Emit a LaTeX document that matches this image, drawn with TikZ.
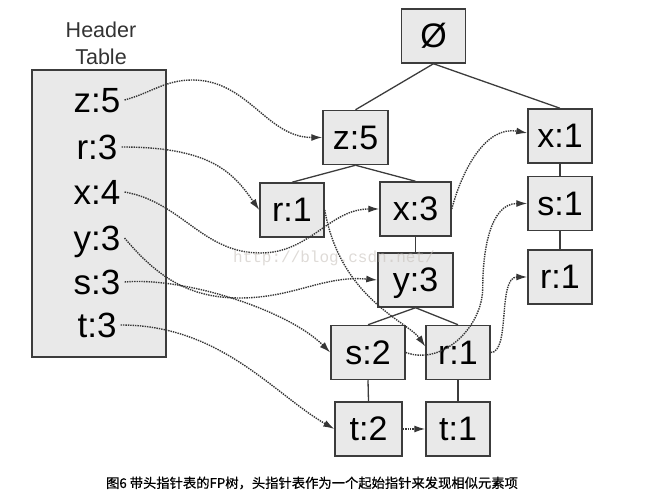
\documentclass[tikz,border=0pt]{standalone}
\usepackage{fontspec}
\setmainfont{Liberation Sans}
\newfontfamily\cjkfont[FakeBold=0.6]{Noto Sans CJK SC}
\newfontfamily\wmfont{Liberation Mono}
\usetikzlibrary{arrows.meta}
\definecolor{boxgray}{RGB}{233,233,233}
\definecolor{edgegray}{RGB}{60,60,60}
\definecolor{wmgray}{RGB}{200,194,188}
\tikzset{
	treebox/.style={draw=edgegray, fill=boxgray, line width=1.5pt, minimum width=64pt, minimum height=54pt, inner sep=0pt, text height=24pt, text depth=0pt, font=\fontsize{34}{38}\selectfont},
	hentry/.style={inner sep=4pt, text height=25pt, text depth=0pt, font=\fontsize{35}{38}\selectfont},
	treeedge/.style={draw=edgegray, line width=1.3pt},
	headptr/.style={draw=edgegray!90!black, line width=1.4pt, dash pattern=on 1.4pt off 1pt, -{Latex[length=11pt,width=7pt]}},
}
\begin{document}
\begin{tikzpicture}[x=1pt,y=1pt]
		\useasboundingbox (0,0) rectangle (650,497);

		\node[draw=edgegray, fill=boxgray, line width=1.5pt, minimum width=134pt, minimum height=287pt] (hTable) at (99,283.5) {};
		\node[align=center, text=black!80, font=\fontsize{21.5}{27}\selectfont] (hTitle) at (101,454) {Header\\Table};

		\node[hentry] (hZ) at (97,397) {z:5};
		\node[hentry] (hR) at (97,350) {r:3};
		\node[hentry] (hX) at (97,305) {x:4};
		\node[hentry] (hY) at (97,259) {y:3};
		\node[hentry] (hS) at (97,215) {s:3};
		\node[hentry] (hT) at (97,172) {t:3};

		\node[treebox] (nEmpty) at (433.5,461) {Ø};
		\node[treebox, minimum width=65pt] (nZ5) at (355.5,359.5) {z:5};
		\node[treebox] (nX1) at (560,361) {x:1};
		\node[treebox] (nR1a) at (292,287) {r:1};
		\node[treebox, minimum width=71pt] (nX3) at (415.5,288) {x:3};
		\node[treebox] (nS1) at (560,293.5) {s:1};
		\node[treebox, minimum width=75pt] (nY3) at (415.5,217) {y:3};
		\node[treebox] (nR1c) at (560,220) {r:1};
		\node[treebox, minimum width=74pt] (nS2) at (368,144.5) {s:2};
		\node[treebox] (nR1b) at (458,144.5) {r:1};
		\node[treebox, minimum width=67pt] (nT2) at (368.5,68) {t:2};
		\node[treebox] (nT1) at (458,68) {t:1};

		\draw[treeedge] (nEmpty.south) -- (nZ5.north);
		\draw[treeedge] (nEmpty.south) -- (nX1.north);
		\draw[treeedge] (nZ5.south) -- (nR1a.north);
		\draw[treeedge] (nZ5.south) -- (nX3.north);
		\draw[treeedge] (nX3.south) -- (nY3.north);
		\draw[treeedge] (nY3.south) -- (nS2.north);
		\draw[treeedge] (nY3.south) -- (nR1b.north);
		\draw[treeedge] (nS2.south) -- (nT2.north);
		\draw[treeedge] (nR1b.south) -- (nT1.north);
		\draw[treeedge] (nX1.south) -- (nS1.north);
		\draw[treeedge] (nS1.south) -- (nR1c.north);

		\draw[headptr] (hZ.east) to[out=15,in=180] ++(68,20) to[out=0,in=180] (nZ5.west);
		\draw[headptr] (hR.east) to[out=0,in=125,out distance=90pt,in distance=45pt] (nR1a.west);
		\draw[headptr] (hX.east) to[out=-10,in=180] ++(136,-61) to[out=0,in=180] (nX3.west);
		\draw[headptr] (nX3.east) to[out=75,in=170] ([yshift=3pt]nX1.west);
		\draw[headptr] (hY.east) to[out=-50,in=180] ++(115,-60) to[out=0,in=175] (nY3.west);
		\draw[headptr] (hS.east) to[out=5,in=135,out distance=60pt,in distance=60pt] (nS2.west);
		\draw[headptr] (hT.east) to[out=0,in=150,out distance=100pt,in distance=70pt] (nT2.west);
		\draw[headptr] (nR1a.east) to[out=-80,in=125,out distance=90pt,in distance=30pt] ([yshift=6pt]nR1b.west);
		\draw[headptr] (nR1b.east) to[out=0,in=180,out distance=20pt,in distance=30pt] (nR1c.west);
		\draw[headptr] (nS2.east) to[out=-20,in=-90] ++(77,65) to[out=90,in=180] (nS1.west);
		\draw[headptr] (nT2.east) -- (nT1.west);

		\node[text=wmgray, text opacity=0.6, font=\wmfont\fontsize{16}{18}\selectfont] (wMark) at (334,239) {http://blog.csdn.net/};

		\node[font=\cjkfont\fontsize{13.3}{16}\selectfont] (caption) at (312,14) {图6 带头指针表的FP树，头指针表作为一个起始指针来发现相似元素项};

	\end{tikzpicture}
\end{document}
